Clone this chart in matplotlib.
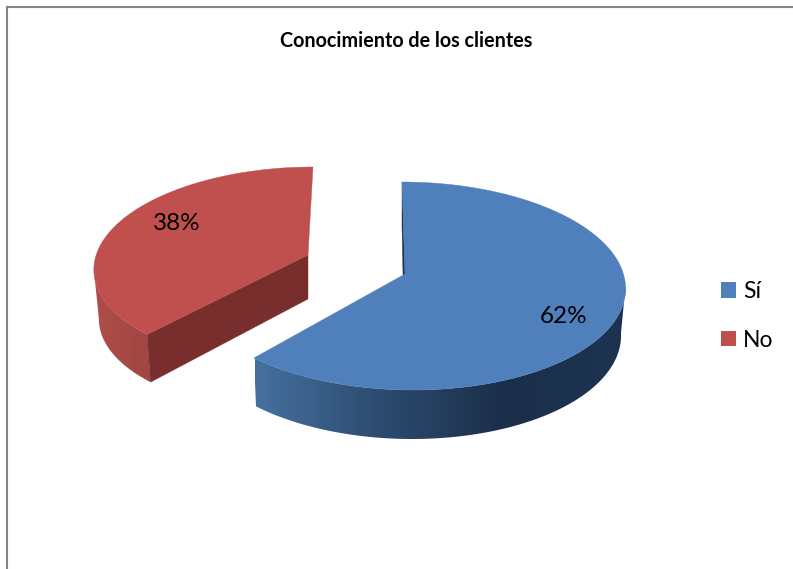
import numpy as np
import matplotlib
matplotlib.use('Agg')
import matplotlib.pyplot as plt
from matplotlib.colors import LinearSegmentedColormap
from matplotlib.patches import Patch, Polygon

# Data
title = 'Conocimiento de los clientes'
categories = ['Sí', 'No']
values = [62, 38]
face_colors = ['#4f80bc', '#bf504d']
cut_colors = ['#1c324f', '#772e2c']

plt.rcParams['font.family'] = ['Lato', 'DejaVu Sans']

# Hand-fitted view of the 3D pie, in pixels (perspective makes each slice differ)
views = [
    dict(apex=(405, 274), apex_low=(404, 320),
         top=(407.5, 286, 218, 104, -5.5), low=(407, 333, 214, 106, -5)),
    dict(apex=(308, 255), apex_low=(308, 299),
         top=(305, 266, 211, 99, 8), low=(304, 315, 205, 97, 8)),
]
wall_cmaps = [
    LinearSegmentedColormap.from_list('blue_wall', ['#46709f', '#2d4c70', '#1b2f4a', '#1d3350']),
    LinearSegmentedColormap.from_list('red_wall', ['#b04d4a', '#9f4542']),
]
wall_ranges = [(255, 626), (94, 155)]
angle_warp = 3  # the cut between slices looks rotated a bit in the 3D view


def rim(ellipse, t):
    # Point of a slice's ellipse at angle t (degrees clockwise from the top)
    cx, cy, rx, ry, shear = ellipse
    t = np.radians(t)
    return cx + rx * np.sin(t) + shear * np.cos(t), cy - ry * np.cos(t)


fig = plt.figure(figsize=(7.93, 5.69), dpi=100)
ax = fig.add_axes([0, 0, 1, 1])

# Chart border
ax.plot([6.5, 6.5, 793], [569, 6.5, 6.5], color='#868686', lw=1.5, solid_joinstyle='miter')

# Slice angles from the values
cut = values[0] / sum(values) * 360 + angle_warp
slice_angles = [(0, cut), (cut, 360)]
wall_angles = [(90, cut), (cut, 268)]

for i, (start, end) in enumerate(slice_angles):
    view = views[i]

    # Outer wall, a horizontal gradient clipped to the wall's outline
    w = np.linspace(wall_angles[i][0], wall_angles[i][1], 200)
    xt, yt = rim(view['top'], w)
    xl, yl = rim(view['low'], w[::-1])
    outline = Polygon(np.c_[np.r_[xt, xl], np.r_[yt, yl]], closed=True, transform=ax.transData)
    x0, x1 = wall_ranges[i]
    gradient = ax.imshow(np.linspace(0, 1, 256)[None, :], cmap=wall_cmaps[i], extent=(x0, x1, 569, 0),
                         aspect='auto', zorder=1, interpolation='bilinear')
    gradient.set_clip_path(outline)

    # Inner wall at the start of the slice
    xs, ys = rim(view['top'], start)
    xe, ye = rim(view['low'], start)
    ax.fill([xs, view['apex'][0], view['apex_low'][0], xe],
            [ys, view['apex'][1], view['apex_low'][1], ye], color=cut_colors[i], lw=0.3, zorder=1)

    # Top face
    xr, yr = rim(view['top'], np.linspace(start, end, 300))
    ax.fill(np.r_[view['apex'][0], xr], np.r_[view['apex'][1], yr],
            color=face_colors[i], lw=0.3, zorder=1)

ax.set_xlim(0, 793)
ax.set_ylim(569, 0)
ax.set_aspect('auto')
ax.axis('off')

# Percent labels
label_pos = [(564, 316), (177, 223)]
for v, (x, y) in zip(values, label_pos):
    ax.text(x, y, f'{v}%', ha='center', va='center', fontsize=17.5, color='black')

ax.text(406, 41, title, ha='center', va='center', fontsize=14.2, fontweight='bold', color='black')

handles = [Patch(facecolor=c, edgecolor='none') for c in face_colors]
ax.legend(handles, categories, loc='center left', bbox_to_anchor=(0.909, 0.445), frameon=False,
          fontsize=16.5, handlelength=0.66, handleheight=0.66, handletextpad=0.3,
          labelspacing=1.2, borderpad=0, borderaxespad=0)

fig.savefig('out.png', dpi=100)
